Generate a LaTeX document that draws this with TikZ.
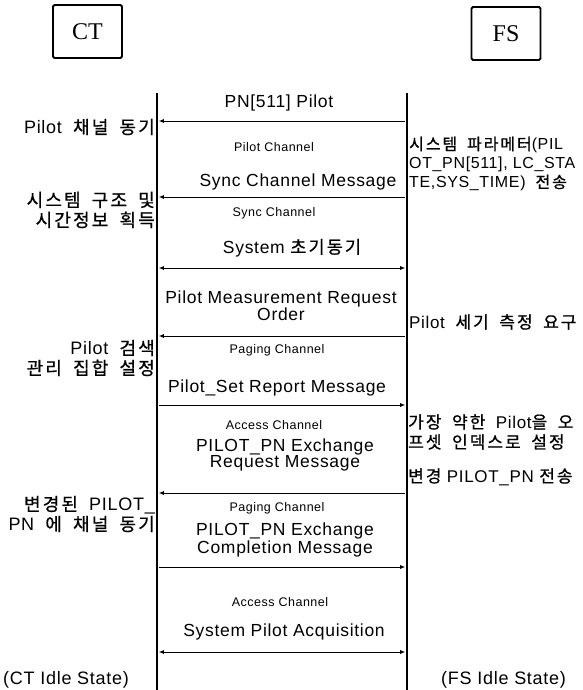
\documentclass[tikz,border=0pt]{standalone}
\usepackage{fontspec}
\setmainfont{Liberation Sans}[LetterSpace=4]
\newfontfamily\kr{Noto Sans CJK KR}[LetterSpace=12, WordSpace=1.8, FakeBold=0.8]
\newfontfamily\tms{Liberation Serif}
\usetikzlibrary{arrows.meta}
\begin{document}
\begin{tikzpicture}[x=1pt,y=-1pt,
  life/.style={line width=2.8pt},
  msg/.style={line width=0.8pt,-{Latex[length=5pt,width=4pt]}},
  bimsg/.style={line width=0.8pt,{Latex[length=5pt,width=4pt]}-{Latex[length=5pt,width=4pt]}},
  big/.style={font=\fontsize{17.5}{15.5}\selectfont, inner sep=0pt, align=center},
  chan/.style={font=\fontsize{12.5}{13}\selectfont, inner sep=0pt},
  lab/.style={font=\fontsize{18}{20}\selectfont, inner sep=0pt},
  leftlab/.style={lab, anchor=east, align=right},
  rightlab/.style={lab, anchor=west, align=left},
  ent/.style={draw, line width=1.8pt, rounded corners=1.5pt, minimum width=69pt, minimum height=53pt, font=\tms\fontsize{24}{26}\selectfont}
]
\useasboundingbox (0,0) rectangle (583,690);

% entities
\node[ent] (ct) at (87.5,31.5) {CT};
\node[ent] (fs) at (506,33.5) {FS};

% lifelines
\coordinate (ctT) at (157,93); \coordinate (ctB) at (157,690);
\coordinate (fsT) at (407,93); \coordinate (fsB) at (407,690);
\draw[life] (ctT) -- (ctB);
\draw[life] (fsT) -- (fsB);

% arrow end points
\foreach \n/\y in {1/121,2/197,3/268,4/336,5/405,6/493,7/567,8/652}{
  \coordinate (L\n) at (158.8,\y);
  \coordinate (R\n) at (405.2,\y);
}
\draw[msg] (R1) -- (L1);
\draw[msg] (R2) -- (L2);
\draw[bimsg] (L3) -- (R3);
\draw[msg] (R4) -- (L4);
\draw[msg] (L5) -- (R5);
\draw[msg] (R6) -- (L6);
\draw[msg] (L7) -- (R7);
\draw[bimsg] (L8) -- (R8);

% message texts
\node[big] (m1) at (279,103) {PN[511] Pilot};
\node[chan] (c1) at (274,147) {Pilot Channel};
\node[big] (m2) at (298,182) {Sync Channel Message};
\node[chan] (c2) at (274,213) {Sync Channel};
\node[big] (m3) at (292,248) {System {\kr 초기동기}};
\node[big] (m4) at (281,306) {Pilot Measurement Request\\Order};
\node[chan] (c4) at (277,350) {Paging Channel};
\node[big] (m5) at (277,388) {Pilot\_Set Report Message};
\node[chan] (c5) at (274,425) {Access Channel};
\node[big] (m6) at (285,455) {PILOT\_PN Exchange\\Request Message};
\node[chan] (c6) at (277,508) {Paging Channel};
\node[big] (m7) at (285,540) {PILOT\_PN Exchange\\Completion Message};
\node[chan] (c7) at (280,602) {Access Channel};
\node[big] (m8) at (284,632) {System Pilot Acquisition};

% left annotations
\node[leftlab] (a1) at (155,127) {Pilot{\kr\ 채널 동기}};
\node[leftlab] (a2) at (155,210) {{\kr 시스템 구조 및}\\{\kr 시간정보 획득}};
\node[leftlab] (a3) at (155,358) {Pilot{\kr\ 검색}\\{\kr 관리 집합 설정}};
\node[leftlab] (a4) at (155,514) {{\kr 변경된\ }PILOT\_\\PN{\kr\ 에 채널 동기}};
\node[lab, anchor=west] (ctidle) at (3,680) {(CT Idle State)};

% right annotations
\node[rightlab, font=\fontsize{16}{19}\selectfont] (b1) at (409,164) {{\kr 시스템 파라메터}(PIL\\OT\_PN[511], LC\_STA\\TE,SYS\_TIME){\kr\ 전송}};
\node[rightlab, font=\fontsize{17}{20}\selectfont] (b2) at (409,322) {Pilot{\kr\ 세기 측정 요구}};
\node[rightlab, font=\fontsize{17}{20}\selectfont] (b3) at (408,432) {{\kr 가장 약한\ }Pilot{\kr 을 오}\\{\kr 프셋 인덱스로 설정}};
\node[rightlab, font=\fontsize{17}{20}\selectfont] (b4) at (408,477) {{\kr 변경} PILOT\_PN {\kr 전송}};
\node[lab, anchor=west] (fsidle) at (441,680) {(FS Idle State)};
\end{tikzpicture}
\end{document}
